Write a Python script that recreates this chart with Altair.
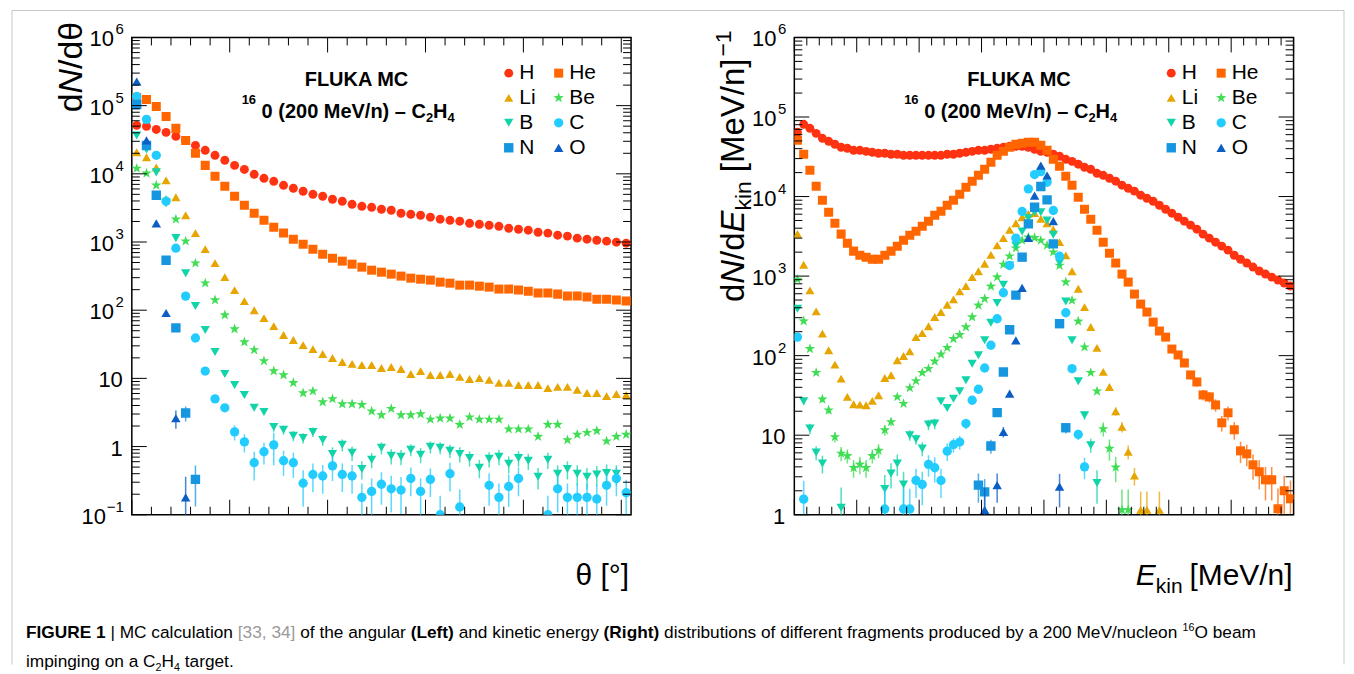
import altair as alt
import pandas as pd

FONT = "Liberation Sans, Arial, Helvetica, sans-serif"

# ---------------- data ----------------
FRAGMENTS = ["H", "He", "Li", "Be", "B", "C", "N", "O"]
COLORS = ["#ff3311", "#ff6600", "#e6a500", "#40dd55", "#11d4a8", "#22ccff", "#1796e0", "#0b5ec4"]
STAR = ("M0,-1.2L0.28,-0.38L1.14,-0.37L0.45,0.14L0.71,0.97L0,0.47L-0.71,0.97L-0.45,0.14"
        "L-1.14,-0.37L-0.28,-0.38Z")
SHAPES = ["circle", "square", "triangle-up", STAR, "triangle-down", "circle", "square", "triangle-up"]
SIZES = [80, 90, 95, 120, 95, 80, 90, 95]

# angular distribution, theta bin centres [deg]
THETA = [0.5 + i for i in range(51)]
H_ANG = [5.13e4, 4.96e4, 4.48e4, 4.05e4, 3.54e4, 3.09e4, 2.61e4, 2.21e4, 1.87e4, 1.58e4,
         1.33e4, 1.16e4, 9.84e3, 8.6e3, 7.76e3, 6.79e3, 6.14e3, 5.55e3, 5.01e3, 4.69e3,
         4.24e3, 3.96e3, 3.57e3, 3.34e3, 3.23e3, 3.02e3, 2.92e3, 2.64e3, 2.55e3, 2.47e3,
         2.31e3, 2.16e3, 2.08e3, 2.02e3, 1.88e3, 1.82e3, 1.76e3, 1.70e3, 1.59e3, 1.54e3,
         1.49e3, 1.39e3, 1.35e3, 1.26e3, 1.22e3, 1.14e3, 1.10e3, 1.06e3, 1.03e3, 993, 960]
HE_ANG = [1.32e5, 1.23e5, 9.73e4, 6.95e4, 4.64e4, 3.09e4, 2.0e4, 1.33e4, 9.19e3, 6.56e3,
          4.69e3, 3.46e3, 2.64e3, 2.08e3, 1.65e3, 1.35e3, 1.10e3, 929, 785, 662,
          579, 524, 473, 428, 386, 361, 338, 316, 295, 285,
          276, 258, 249, 233, 233, 225, 218, 204, 204, 197,
          190, 178, 178, 172, 161, 161, 156, 145, 145, 141, 136]
LI_ANG = [2.07e4, 1.75e4, 1.24e4, 8.03e3, 4.53e3, 2.47e3, 1.35e3, 785, 490, 305,
          197, 136, 100, 76.6, 58.5, 43.2, 36.5, 30.8, 26.9, 22.8,
          19.9, 17.4, 16.3, 15.7, 15.7, 14.2, 14.7, 13.7, 11.6, 12.8,
          11.2, 11.2, 11.6, 10.5, 9.8, 10.1, 9.5, 8.6, 8.6, 8.0,
          8.0, 8.0, 7.2, 7.5, 7.5, 6.8, 6.1, 6.1, 5.5, 5.9, 5.7]
BE_ANG = [1.20e4, 1.02e4, 6.79e3, 4.09e3, 2.16e3, 1.03e3, 490, 249, 141, 84.7,
          52.9, 34.1, 26.1, 18.0, 12.8, 11.2, 8.6, 6.1, 6.5, 4.5,
          5.0, 4.2, 4.2, 4.1, 3.3, 2.9, 3.6, 2.9, 2.9, 3.0,
          2.5, 2.6, 2.6, 2.1, 2.7, 2.5, 2.5, 2.5, 1.8, 1.8,
          1.8, 1.4, 2.1, 2.1, 1.25, 1.5, 1.6, 1.7, 1.2, 1.4, 1.5]
B_ANG = [3.66e4, 2.28e4, 1.05e4, 3.70e3, 1.14e3, 349, 115, 51.2, 24.4, 11.6,
         8.0, 5.7, 3.7, 3.2, 1.94, 1.76, 1.44, 1.34, 1.64, 1.25,
         0.78, 1.06, 0.81, 0.47, 0.64, 0.96, 0.73, 0.71, 0.90, 0.76,
         0.99, 0.96, 0.87, 0.78, 0.68, 0.49, 0.66, 0.71, 0.56, 0.68,
         0.62, 0.36, 0.64, 0.40, 0.47, 0.40, 0.36, 0.39, 0.41, 0.40, None]
C_ANG = [1.36e5, 6.28e4, 1.87e4, 3.96e3, 811, 161, 39.1, 12.8, 5.0, 3.7,
         1.64, 1.17, 0.58, 0.84, 1.06, 0.62, 0.58, 0.29, 0.39, 0.37,
         0.52, 0.39, 0.37, 0.18, 0.22, 0.28, 0.24, 0.23, 0.34, 0.22,
         0.33, 0.10, 0.40, 0.13, None, None, 0.27, 0.18, 0.26, 0.34,
         None, None, 0.10, 0.24, 0.18, 0.18, 0.18, 0.17, 0.27, 0.34, 0.21]
N_ANG = [1.04e5, 2.6e4, 4.84e3, 541, 55, 3.1, 0.33] + [None] * 44
O_ANG = [2.26e5, 3.1e4, 1.88e3, 91, 2.6, 0.18] + [None] * 45

# relative statistical errors (None: bar hidden by marker)
B_ANG_ERR = [None] * 14 + [0.15, 0.15, 0.17, 0.17, 0.16, 0.18, 0.25, 0.2, 0.24, 0.3,
                           0.25, 0.2, 0.25, 0.25, 0.2, 0.25, 0.2, 0.2, 0.22, 0.25,
                           0.25, 0.3, 0.25, 0.25, 0.28, 0.25, 0.27, 0.35, 0.27, 0.33,
                           0.3, 0.33, 0.35, 0.33, 0.33, 0.33] + [None]
C_ANG_ERR = [None] * 10 + [0.25, 0.3, 0.45, 0.35, 0.5, 0.4, 0.4, 0.55, 0.45, 0.45,
                           0.4, 0.45, 0.45, 0.6, 0.55, 0.5, 0.55, 0.55, 0.45, 0.55,
                           0.45, 0.9, 0.45, 0.8, None, None, 0.5, 0.6, 0.5, 0.45,
                           None, None, 0.9, 0.55, 0.6, 0.6, 0.6, 0.6, 0.5, 0.45, 0.55]
N_ANG_ERR = [None] * 5 + [0.25, 0.6] + [None] * 44
O_ANG_ERR = [None] * 4 + [0.3, 1.0] + [None] * 45

# kinetic energy distribution, E bin centres [MeV/n]
EKIN = [2.5 + 5 * i for i in range(80)]
H_E = [6.42e4, 8.09e4, 7.21e4, 6.23e4, 5.40e4, 4.95e4, 4.54e4, 4.16e4, 4.04e4, 3.81e4,
       3.81e4, 3.70e4, 3.60e4, 3.50e4, 3.50e4, 3.40e4, 3.40e4, 3.30e4, 3.30e4, 3.30e4,
       3.30e4, 3.30e4, 3.30e4, 3.30e4, 3.40e4, 3.40e4, 3.50e4, 3.60e4, 3.70e4, 3.81e4,
       3.81e4, 3.93e4, 4.04e4, 4.16e4, 4.28e4, 4.28e4, 4.28e4, 4.16e4, 3.93e4, 3.70e4,
       3.60e4, 3.40e4, 3.21e4, 2.94e4, 2.77e4, 2.55e4, 2.33e4, 2.20e4, 1.96e4, 1.85e4,
       1.70e4, 1.56e4, 1.39e4, 1.27e4, 1.17e4, 1.04e4, 9.52e3, 8.73e3, 7.78e3, 6.93e3,
       6.18e3, 5.50e3, 4.90e3, 4.37e3, 3.89e3, 3.37e3, 3.00e3, 2.67e3, 2.38e3, 2.12e3,
       1.83e3, 1.63e3, 1.46e3, 1.30e3, 1.16e3, 1.06e3, 971, 891, 817, 749]
HE_E = [5.09e4, 3.40e4, 2.14e4, 1.35e4, 8.99e3, 6.36e3, 4.62e3, 3.37e3, 2.59e3, 2.06e3,
        1.83e3, 1.73e3, 1.63e3, 1.63e3, 1.83e3, 2.06e3, 2.38e3, 2.83e3, 3.27e3, 3.67e3,
        4.24e3, 4.90e3, 5.83e3, 6.54e3, 7.78e3, 8.99e3, 1.07e4, 1.31e4, 1.56e4, 1.85e4,
        2.20e4, 2.70e4, 3.30e4, 3.70e4, 4.16e4, 4.54e4, 4.67e4, 4.81e4, 4.81e4, 4.41e4,
        3.81e4, 2.94e4, 2.40e4, 1.80e4, 1.39e4, 9.8e3, 6.93e3, 5.19e3, 3.78e3, 2.67e3,
        1.94e3, 1.46e3, 1.06e3, 841, 594, 445, 353, 264, 204, 171,
        121, 102, 80.9, 57.2, 46.7, 32.1, 30.3, 24.0, 14.3, 19.1,
        11.7, 6.36, 5.83, 4.24, 3.47, 2.75, 2.75, 1.19, 2.0, 1.59]
LI_E = [3.40e3, 1.39e3, 661, 360, 189, 117, 77, 51.4, 30.3, 24.5,
        24.2, 23.8, 27.0, 31.8, 52.4, 56.7, 87.5, 99, 113, 171,
        192, 234, 306, 353, 436, 510, 642, 749, 971, 1.15e3,
        1.43e3, 1.85e3, 2.43e3, 3.00e3, 3.81e3, 4.62e3, 5.50e3, 6.05e3, 6.18e3, 5.24e3,
        4.62e3, 3.85e3, 2.67e3, 1.82e3, 1.15e3, 693, 408, 229, 125, 62.4,
        40.4, 20.0, 12.7, 6.2, 3.1, 1.15, 1.15, None, 1.15] + [None] * 21
BE_E = [909, 272, 122, 61.1, 28.3, 20.6, 9.5, 5.9, 5.5, 3.9,
        4.3, 3.9, 5.5, 6.4, 11.6, 14.7, 30.3, 24.9, 39.3, 48.1,
        61.1, 68.6, 84.9, 104, 126, 163, 183, 229, 306, 429,
        519, 743, 971, 1.40e3, 1.78e3, 2.25e3, 2.81e3, 3.08e3, 3.03e3, 2.81e3,
        2.43e3, 2.00e3, 1.36e3, 841, 495, 270, 128, 61.1, 35.7, 12.0,
        6.8, 3.95, 1.15, 1.15] + [None] * 26
B_E = [388, 26.7, 12.1, 6.05, 4.4, None, None, 1.22, None, None,
       None, None, None, None, 2.1, 3.3, 4.4, 2.4, 10.0, 8.9,
       6.8, 13.6, 14.0, 26.7, 22.0, 28.8, 35.7, 49.1, 79.3, 101,
       156, 259, 458, 778, 1.36e3, 2.43e3, 3.64e3, 5.35e3, 6.36e3, 6.36e3,
       5.0e3, 3.30e3, 1.47e3, 481, 156, 47.7, 17.8, 7.5, 2.5] + [None] * 31
C_E = [171, 1.57, None, None, None, None, None, None, None, None,
       None, None, None, None, 1.18, None, None, 1.18, 1.18, 2.7,
       2.4, 4.3, 3.9, 2.7, 6.3, 7.6, 8.2, 14.0, 27.5, 37.8,
       70, 135, 291, 617, 1.36e3, 3.00e3, 6.49e3, 1.25e4, 1.89e4, 2.06e4,
       1.51e4, 6.68e3, 1.78e3, 346, 68.6, 10.2, 4.0] + [None] * 33
N_E = [None] * 29 + [2.36, 1.94, 7.3, 19.2, 62.4, 212, 577, 1.73e3, 4.53e3, 7.35e3,
                     1.34e4, 9.07e3, 2.54e3, 252, 12.4] + [None] * 36
O_E = [None] * 30 + [1.15, None, 2.36, 11.0, 33.3, 156, 713, 3.03e3, 1.03e4, 2.45e4,
                     1.84e4, 4.90e3, 2.25] + [None] * 37

HE_E_ERR = [None] * 60 + [0.08, 0.08, 0.1, 0.12, 0.13, 0.15, 0.15, 0.18, 0.22, 0.2,
                          0.25, 0.3, 0.3, 0.35, 0.4, 0.45, 0.45, 0.8, 0.55, 0.7]
LI_E_ERR = [None] * 50 + [0.08, 0.12, 0.15, 0.2, 0.25, 0.7, 0.7, None, 0.7] + [None] * 21
BE_E_ERR = ([None] * 4 + [0.08, 0.1, 0.15, 0.2, 0.2, 0.25, 0.25, 0.25, 0.2, 0.2, 0.15, 0.12]
            + [None] * 33 + [0.2, 0.3, 0.35, 0.8, 0.8] + [None] * 26)
B_E_ERR = ([None, 0.1, 0.15, 0.2, 0.25, None, None, 0.8, None, None, None, None, None, None,
            0.5, 0.35, 0.3, 0.45, 0.15, 0.15, 0.2, 0.15, 0.15]
           + [None] * 22 + [0.08, 0.12, 0.2, 0.45] + [None] * 31)
C_E_ERR = ([None, 0.7] + [None] * 12
           + [0.8, None, None, 0.8, 0.8, 0.4, 0.45, 0.3, 0.35, 0.4, 0.25, 0.2, 0.2, 0.15, 0.1]
           + [None] * 16 + [0.15, 0.3] + [None] * 33)
N_E_ERR = [None] * 29 + [0.4, 0.45, 0.2, 0.1] + [None] * 10 + [0.15] + [None] * 36
O_E_ERR = [None] * 30 + [0.9, None, 0.4, 0.15] + [None] * 8 + [0.45] + [None] * 37

# axes
L_X_TICKS = [0, 10, 20, 30, 40, 50]
R_X_TICKS = [0, 50, 100, 150, 200, 250, 300, 350, 400]
L_Y_TICKS = [0.1, 1, 10, 100, 1e3, 1e4, 1e5, 1e6]
L_Y_BASE = ["10", "1", "10", "10", "10", "10", "10", "10"]
L_Y_EXP = ["\u22121", "", "", "2", "3", "4", "5", "6"]
R_Y_TICKS = [1, 10, 100, 1e3, 1e4, 1e5, 1e6]
R_Y_BASE = ["1", "10", "10", "10", "10", "10", "10"]
R_Y_EXP = ["", "", "2", "3", "4", "5", "6"]

W, H = 500, 478

# Arial / Liberation Sans advance widths (1/1000 em) used to lay out rich-text pieces
_REG = {" ": 278, "(": 333, ")": 333, ",": 278, ".": 278, "/": 278, "[": 278, "]": 278,
        "|": 260, "\u2013": 556, "\u2212": 584, "\u03b8": 556, "\u00b0": 400,
        "A": 667, "B": 667, "C": 722, "D": 722, "E": 667, "F": 611, "G": 778, "H": 722,
        "I": 278, "K": 667, "L": 556, "M": 833, "N": 722, "O": 778, "R": 722, "U": 722,
        "V": 667, "a": 556, "b": 556, "c": 500, "d": 556, "e": 556, "f": 278, "g": 556,
        "h": 556, "i": 222, "j": 222, "k": 500, "l": 222, "m": 833, "n": 556, "o": 556,
        "p": 556, "r": 333, "s": 500, "t": 278, "u": 556, "v": 500, "w": 722, "y": 500}
_BOLD = dict(_REG, **{"(": 333, ")": 333, "F": 611, "L": 611, "U": 722, "K": 722, "A": 722,
                      "e": 556, "f": 333, "t": 333, "i": 278, "g": 611, "h": 611, "n": 611,
                      "R": 722, "G": 778, "I": 278, "E": 667})


def tw(s, fs, bold=False):
    table = _BOLD if bold else _REG
    return sum(table.get(c, 556) for c in s) * fs / 1000.0


def build(bins, series, errors):
    rows = []
    for name, vals, errs in zip(FRAGMENTS, series, errors):
        for k, (x, v) in enumerate(zip(bins, vals)):
            if v is None:
                continue
            r = errs[k] if errs is not None else None
            lo = hi = None
            if r is not None:
                lo = max(v * (1 - r), 1e-3)
                hi = v * (1 + r)
            rows.append({"x": x, "v": v, "frag": name, "lo": lo, "hi": hi})
    return pd.DataFrame(rows)


def txt(s, x, y, fs, weight="normal", style="normal", angle=0, align="left",
        baseline="alphabetic", color="black", font=FONT):
    return alt.Chart(pd.DataFrame({"s": [s]})).mark_text(
        font=font, fontSize=fs, fontWeight=weight, fontStyle=style, angle=angle,
        align=align, baseline=baseline, color=color
    ).encode(x=alt.value(x), y=alt.value(y), text="s:N")


def rule(x, y, x2=None, y2=None, color="black", width=1.0):
    enc = {"x": alt.value(x), "y": alt.value(y)}
    if x2 is not None:
        enc["x2"] = alt.value(x2)
    if y2 is not None:
        enc["y2"] = alt.value(y2)
    return alt.Chart(pd.DataFrame({"a": [0]})).mark_rule(color=color, strokeWidth=width).encode(**enc)


def tick_layers(xs, ys, xmajor, xminor, ymajor, yminor):
    out = []
    for vals, ln in ((xmajor, 15), (xminor, 8)):
        base = alt.Chart(pd.DataFrame({"t": vals}))
        out.append(base.mark_rule(color="black", strokeWidth=1).encode(
            x=alt.X("t:Q", scale=xs, axis=None), y=alt.value(H), y2=alt.value(H - ln)))
        out.append(base.mark_rule(color="black", strokeWidth=1).encode(
            x=alt.X("t:Q", scale=xs, axis=None), y=alt.value(0), y2=alt.value(ln)))
    for vals, ln in ((ymajor, 15), (yminor, 8)):
        base = alt.Chart(pd.DataFrame({"t": vals}))
        out.append(base.mark_rule(color="black", strokeWidth=1).encode(
            y=alt.Y("t:Q", scale=ys, axis=None), x=alt.value(0), x2=alt.value(ln)))
        out.append(base.mark_rule(color="black", strokeWidth=1).encode(
            y=alt.Y("t:Q", scale=ys, axis=None), x=alt.value(W), x2=alt.value(W - ln)))
    return out


def ylabel_layers(ys, ticks, bases, exps):
    out = []
    df = pd.DataFrame({"t": ticks, "b": bases, "e": exps})
    for n in sorted(set(len(e) for e in exps)):
        sub = df[df["e"].str.len() == n]
        shift = {0: 0, 1: 9, 2: 17}[n]
        out.append(alt.Chart(sub).mark_text(font=FONT, fontSize=22, align="right",
                                            baseline="middle", dy=2).encode(
            x=alt.value(-9 - shift), y=alt.Y("t:Q", scale=ys, axis=None), text="b:N"))
        if n > 0:
            out.append(alt.Chart(sub).mark_text(font=FONT, fontSize=15, align="right",
                                                baseline="middle", dy=-8).encode(
                x=alt.value(-8), y=alt.Y("t:Q", scale=ys, axis=None), text="e:N"))
    return out


def errorbars(df, xs, ys):
    d = df.dropna(subset=["lo"])
    return alt.Chart(d).mark_rule(strokeWidth=1.5, opacity=0.75, clip=True).encode(
        x=alt.X("x:Q", scale=xs, axis=None),
        y=alt.Y("lo:Q", scale=ys, axis=None), y2="hi:Q",
        color=alt.Color("frag:N", scale=alt.Scale(domain=FRAGMENTS, range=COLORS), legend=None),
    )


def points(df, xs, ys, xticks, lx, ly):
    leg = alt.Legend(orient="none", legendX=lx, legendY=ly, columns=2, direction="horizontal",
                     title=None, labelFont=FONT, labelFontSize=21, symbolSize=50, rowPadding=3,
                     columnPadding=12, labelOffset=0, symbolStrokeWidth=0, padding=0)
    return alt.Chart(df).mark_point(filled=True, opacity=1, clip=True, strokeWidth=0).encode(
        x=alt.X("x:Q", scale=xs, axis=alt.Axis(values=xticks, format="d", ticks=False, domain=False,
                                                grid=False, labelFont=FONT, labelFontSize=22,
                                                labelPadding=5, labelFlush=False, labelOverlap=False,
                                                labelColor="black", title=None)),
        y=alt.Y("v:Q", scale=ys, axis=None),
        color=alt.Color("frag:N", scale=alt.Scale(domain=FRAGMENTS, range=COLORS), legend=leg),
        shape=alt.Shape("frag:N", scale=alt.Scale(domain=FRAGMENTS, range=SHAPES), legend=leg),
        size=alt.Size("frag:N", scale=alt.Scale(domain=FRAGMENTS, range=SIZES), legend=None),
    )


def annotation():
    x0 = 130
    main = "0 (200 MeV/n) \u2013 C"
    x1 = x0 + tw(main, 20, True)
    x2 = x1 + tw("2", 13, True)
    x3 = x2 + tw("H", 20, True)
    return [
        txt("FLUKA MC", 225, 49, 20, weight="bold", align="center"),
        txt("16", 110, 67, 13, weight="bold"),
        txt(main, x0, 81, 20, weight="bold"),
        txt("2", x1, 85, 13, weight="bold"),
        txt("H", x2, 81, 20, weight="bold"),
        txt("4", x3, 85, 13, weight="bold"),
    ]


def rotated_title(pieces, x, y0):
    """pieces: (text, size, style, baseline shift toward +x, gap before)"""
    out = []
    y = y0
    for s, fs, style, shift, gap in pieces:
        y -= gap
        out.append(txt(s, x + shift, y, fs, style=style, angle=270))
        y -= tw(s, fs)
    return out


# ---------------- left panel ----------------
xs_l = alt.Scale(domain=[0, 51], nice=False, zero=False)
ys_l = alt.Scale(type="log", domain=[0.1, 1e6], nice=False)
df_l = build(THETA, [H_ANG, HE_ANG, LI_ANG, BE_ANG, B_ANG, C_ANG, N_ANG, O_ANG],
             [None, None, None, None, B_ANG_ERR, C_ANG_ERR, N_ANG_ERR, O_ANG_ERR])
l_minor_x = [v for v in range(0, 51, 2) if v % 10 != 0]
l_minor_y = [k * d for d in [0.1, 1, 10, 100, 1e3, 1e4, 1e5] for k in range(2, 10)]

left_layers = [points(df_l, xs_l, ys_l, L_X_TICKS, 367, 25), errorbars(df_l, xs_l, ys_l)]
left_layers += tick_layers(xs_l, ys_l, L_X_TICKS, l_minor_x, L_Y_TICKS, l_minor_y)
left_layers += ylabel_layers(ys_l, L_Y_TICKS, L_Y_BASE, L_Y_EXP)
left_layers += annotation()
left_layers += rotated_title([("d", 34, "normal", 0, 0), ("N", 34, "italic", 0, 0),
                              ("/d\u03b8", 34, "normal", 0, 0)], -50, 75)
left_layers += [txt("\u03b8 [\u00b0]", 498, 548, 30, align="right")]

# figure frame (relative to this panel's plot origin)
left_layers += [
    rule(-120, -27, x2=1214, color="#c8c8c8"),
    rule(-120, -27, y2=628, color="#c8c8c8"),
    rule(1214, -27, y2=628, color="#c8c8c8"),
]

# caption, laid out piece by piece
CAP_FS = 17.3
CAPTION_1 = [("FIGURE 1", True, "black", 0), (" | MC calculation ", False, "black", 0),
             ("[33, 34]", False, "#9a9a9a", 0), (" of the angular ", False, "black", 0),
             ("(Left)", True, "black", 0), (" and kinetic energy ", False, "black", 0),
             ("(Right)", True, "black", 0),
             (" distributions of different fragments produced by a 200 MeV/nucleon ", False, "black", 0),
             ("16", False, "black", 1), ("O beam", False, "black", 0)]
CAPTION_2 = [("impinging on a C", False, "black", 0), ("2", False, "black", -1),
             ("H", False, "black", 0), ("4", False, "black", -1), (" target.", False, "black", 0)]


def caption_line(pieces, x0, y):
    out = []
    x = x0
    for s, bold, color, script in pieces:
        fs = CAP_FS if script == 0 else CAP_FS * 0.62
        dy = 0 if script == 0 else (-7 if script > 0 else 4)
        lead = len(s) - len(s.lstrip(" "))
        x += tw(" " * lead, fs, bold)
        core = s.strip(" ")
        out.append(txt(core, x, y + dy, fs, weight="bold" if bold else "normal", color=color))
        x += tw(core, fs, bold)
        x += tw(" " * (len(s) - len(s.rstrip(" "))), fs, bold)
    return out


left_layers += caption_line(CAPTION_1, -106, 601)
left_layers += caption_line(CAPTION_2, -106, 630)
left = alt.layer(*left_layers).properties(width=W, height=H)

# ---------------- right panel ----------------
xs_r = alt.Scale(domain=[0, 400], nice=False, zero=False)
ys_r = alt.Scale(type="log", domain=[1, 1e6], nice=False)
df_r = build(EKIN, [H_E, HE_E, LI_E, BE_E, B_E, C_E, N_E, O_E],
             [None, HE_E_ERR, LI_E_ERR, BE_E_ERR, B_E_ERR, C_E_ERR, N_E_ERR, O_E_ERR])
r_minor_x = [v for v in range(0, 401, 10) if v % 50 != 0]
r_minor_y = [k * d for d in [1, 10, 100, 1e3, 1e4, 1e5] for k in range(2, 10)]

right_layers = [points(df_r, xs_r, ys_r, R_X_TICKS, 367, 25), errorbars(df_r, xs_r, ys_r)]
right_layers += tick_layers(xs_r, ys_r, R_X_TICKS, r_minor_x, R_Y_TICKS, r_minor_y)
right_layers += ylabel_layers(ys_r, R_Y_TICKS, R_Y_BASE, R_Y_EXP)
right_layers += annotation()
right_layers += rotated_title([("d", 33, "normal", 0, 0), ("N", 33, "italic", 0, 0),
                               ("/d", 33, "normal", 0, 0), ("E", 33, "italic", 0, 0),
                               ("kin", 23, "normal", 7, 0), ("[MeV/n]", 33, "normal", 0, 9),
                               ("\u22121", 23, "normal", -13, 2)], -50, 265)
right_layers += [
    txt("E", 342, 548, 30, style="italic"),
    txt("kin", 362, 556, 21),
    txt("[MeV/n]", 499, 548, 30, align="right"),
]
right = alt.layer(*right_layers).properties(width=W, height=H)

chart = (
    alt.hconcat(left, right, spacing=163.5, bounds="flush")
    .resolve_scale(color="independent", shape="independent", size="independent")
    .resolve_legend(color="independent", shape="independent")
    .properties(padding={"left": 2, "top": 0, "right": 0, "bottom": 0}, background="white")
    .configure_view(stroke="black", strokeWidth=1.5)
)

chart.save("out.html", embed_options={"renderer": "svg", "actions": False})
